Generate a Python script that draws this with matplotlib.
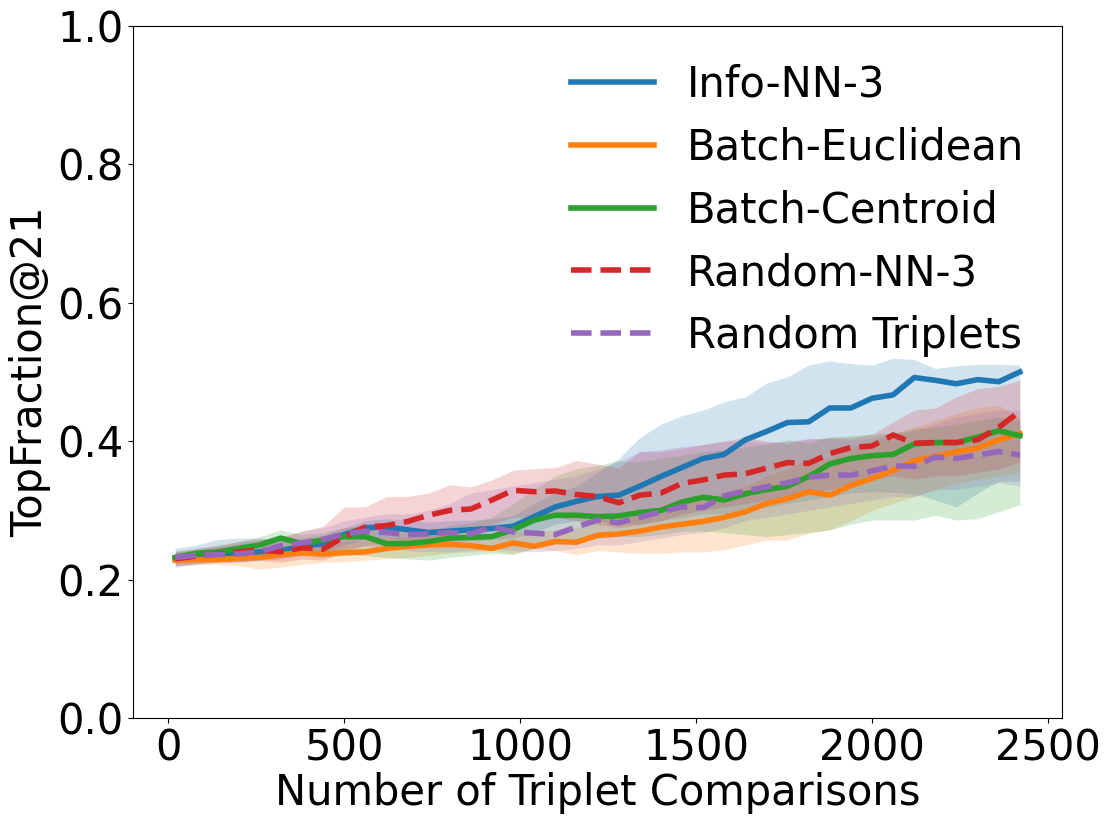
import numpy as np
import matplotlib
matplotlib.use("Agg")
import matplotlib.pyplot as plt

x = list(range(20, 2421, 60))

labels = ["Info-NN-3", "Batch-Euclidean", "Batch-Centroid", "Random-NN-3", "Random Triplets"]
colors = ["#1f77b4", "#ff7f0e", "#2ca02c", "#d62728", "#9467bd"]
styles = ["-", "-", "-", "--", "--"]

info_nn3 = [0.230, 0.233, 0.236, 0.238, 0.240, 0.242, 0.248, 0.252, 0.265, 0.275,
            0.276, 0.272, 0.268, 0.270, 0.272, 0.274, 0.277, 0.291, 0.305, 0.313,
            0.320, 0.322, 0.335, 0.349, 0.362, 0.375, 0.381, 0.402, 0.414, 0.427,
            0.428, 0.448, 0.448, 0.462, 0.467, 0.492, 0.488, 0.483, 0.489, 0.486, 0.500]
info_nn3_lo = [0.218, 0.222, 0.225, 0.225, 0.228, 0.230, 0.235, 0.240, 0.250, 0.258,
               0.260, 0.255, 0.252, 0.255, 0.256, 0.258, 0.260, 0.268, 0.280, 0.285,
               0.285, 0.280, 0.280, 0.285, 0.290, 0.295, 0.295, 0.300, 0.305, 0.310,
               0.315, 0.320, 0.325, 0.327, 0.326, 0.324, 0.315, 0.305, 0.325, 0.342, 0.342]
info_nn3_hi = [0.245, 0.250, 0.258, 0.260, 0.260, 0.258, 0.260, 0.264, 0.275, 0.285,
               0.288, 0.286, 0.283, 0.285, 0.286, 0.288, 0.292, 0.310, 0.325, 0.335,
               0.355, 0.375, 0.405, 0.425, 0.437, 0.445, 0.457, 0.464, 0.484, 0.493,
               0.510, 0.516, 0.512, 0.510, 0.520, 0.518, 0.505, 0.509, 0.511, 0.511, 0.510]

batch_euc = [0.228, 0.229, 0.229, 0.231, 0.232, 0.236, 0.239, 0.237, 0.239, 0.240,
             0.245, 0.248, 0.250, 0.251, 0.249, 0.245, 0.253, 0.248, 0.255, 0.254,
             0.264, 0.266, 0.270, 0.276, 0.280, 0.284, 0.290, 0.298, 0.310, 0.317,
             0.327, 0.322, 0.336, 0.346, 0.358, 0.372, 0.378, 0.385, 0.390, 0.402, 0.411]
batch_euc_lo = [0.220, 0.222, 0.222, 0.220, 0.215, 0.218, 0.222, 0.225, 0.226, 0.228,
                0.230, 0.232, 0.235, 0.238, 0.240, 0.242, 0.238, 0.245, 0.242, 0.236,
                0.242, 0.240, 0.238, 0.238, 0.240, 0.240, 0.243, 0.250, 0.257, 0.257,
                0.267, 0.272, 0.285, 0.300, 0.310, 0.320, 0.330, 0.340, 0.345, 0.350, 0.355]
batch_euc_hi = [0.238, 0.240, 0.240, 0.242, 0.245, 0.248, 0.252, 0.252, 0.255, 0.256,
                0.260, 0.262, 0.265, 0.268, 0.268, 0.265, 0.270, 0.268, 0.272, 0.275,
                0.285, 0.290, 0.295, 0.305, 0.310, 0.315, 0.325, 0.335, 0.350, 0.360,
                0.375, 0.375, 0.390, 0.400, 0.410, 0.420, 0.430, 0.440, 0.448, 0.452, 0.435]

batch_cen = [0.232, 0.238, 0.240, 0.245, 0.250, 0.260, 0.252, 0.257, 0.262, 0.262,
             0.252, 0.252, 0.255, 0.260, 0.261, 0.262, 0.272, 0.286, 0.293, 0.293,
             0.291, 0.292, 0.297, 0.300, 0.312, 0.319, 0.315, 0.324, 0.330, 0.335,
             0.349, 0.367, 0.375, 0.379, 0.381, 0.396, 0.398, 0.398, 0.406, 0.415, 0.408]
batch_cen_lo = [0.225, 0.228, 0.230, 0.232, 0.235, 0.240, 0.235, 0.232, 0.235, 0.235,
                0.232, 0.230, 0.228, 0.232, 0.235, 0.238, 0.236, 0.245, 0.252, 0.255,
                0.260, 0.262, 0.262, 0.265, 0.270, 0.270, 0.268, 0.265, 0.262, 0.265,
                0.268, 0.272, 0.280, 0.286, 0.286, 0.286, 0.293, 0.286, 0.288, 0.298, 0.308]
batch_cen_hi = [0.242, 0.245, 0.248, 0.255, 0.262, 0.272, 0.265, 0.268, 0.275, 0.278,
                0.270, 0.268, 0.270, 0.278, 0.282, 0.290, 0.310, 0.330, 0.350, 0.360,
                0.365, 0.372, 0.370, 0.375, 0.380, 0.385, 0.388, 0.392, 0.395, 0.402,
                0.398, 0.406, 0.408, 0.410, 0.412, 0.418, 0.420, 0.425, 0.430, 0.435, 0.430]

random_nn3 = [0.230, 0.234, 0.237, 0.240, 0.243, 0.240, 0.246, 0.244, 0.262, 0.276,
              0.278, 0.284, 0.293, 0.300, 0.302, 0.315, 0.329, 0.327, 0.328, 0.323,
              0.320, 0.311, 0.322, 0.325, 0.339, 0.344, 0.351, 0.353, 0.361, 0.369,
              0.368, 0.382, 0.391, 0.393, 0.409, 0.397, 0.398, 0.398, 0.402, 0.420, 0.443]
random_nn3_lo = [0.220, 0.223, 0.225, 0.226, 0.228, 0.225, 0.230, 0.228, 0.240, 0.250,
                 0.250, 0.255, 0.260, 0.265, 0.270, 0.280, 0.290, 0.290, 0.290, 0.285,
                 0.280, 0.275, 0.280, 0.285, 0.295, 0.300, 0.305, 0.310, 0.315, 0.320,
                 0.325, 0.330, 0.340, 0.345, 0.350, 0.345, 0.350, 0.350, 0.355, 0.360, 0.370]
random_nn3_hi = [0.240, 0.245, 0.250, 0.255, 0.258, 0.260, 0.270, 0.277, 0.305, 0.305,
                 0.320, 0.320, 0.325, 0.337, 0.334, 0.344, 0.358, 0.360, 0.362, 0.372,
                 0.367, 0.361, 0.385, 0.385, 0.390, 0.395, 0.400, 0.406, 0.400, 0.397,
                 0.403, 0.405, 0.405, 0.410, 0.428, 0.445, 0.448, 0.464, 0.476, 0.479, 0.488]

random_trip = [0.232, 0.235, 0.236, 0.237, 0.240, 0.249, 0.253, 0.258, 0.266, 0.270,
               0.268, 0.265, 0.266, 0.268, 0.266, 0.276, 0.269, 0.267, 0.265, 0.276,
               0.286, 0.282, 0.290, 0.298, 0.305, 0.304, 0.321, 0.328, 0.334, 0.340,
               0.348, 0.351, 0.351, 0.357, 0.364, 0.364, 0.377, 0.375, 0.380, 0.385, 0.380]
random_trip_lo = [0.222, 0.225, 0.226, 0.226, 0.228, 0.232, 0.235, 0.240, 0.245, 0.248,
                  0.245, 0.242, 0.240, 0.240, 0.242, 0.245, 0.242, 0.240, 0.242, 0.245,
                  0.250, 0.250, 0.255, 0.260, 0.265, 0.268, 0.275, 0.285, 0.290, 0.295,
                  0.300, 0.305, 0.310, 0.315, 0.320, 0.320, 0.330, 0.330, 0.335, 0.340, 0.335]
random_trip_hi = [0.240, 0.243, 0.248, 0.252, 0.258, 0.262, 0.270, 0.275, 0.285, 0.290,
                  0.295, 0.295, 0.300, 0.310, 0.325, 0.330, 0.335, 0.340, 0.345, 0.350,
                  0.360, 0.370, 0.385, 0.388, 0.392, 0.395, 0.400, 0.400, 0.398, 0.400,
                  0.404, 0.404, 0.402, 0.404, 0.410, 0.415, 0.425, 0.435, 0.440, 0.445, 0.445]

means = [info_nn3, batch_euc, batch_cen, random_nn3, random_trip]
lows = [info_nn3_lo, batch_euc_lo, batch_cen_lo, random_nn3_lo, random_trip_lo]
highs = [info_nn3_hi, batch_euc_hi, batch_cen_hi, random_nn3_hi, random_trip_hi]

fig = plt.figure(figsize=(11.1, 8.23), dpi=100)
ax = fig.add_axes([0.1198, 0.1276, 0.8370, 0.8408])

for m, lo, hi, c, ls, lab in zip(means, lows, highs, colors, styles, labels):
    ax.plot(x, m, color=c, linestyle=ls, linewidth=4, label=lab)
    ax.fill_between(x, lo, hi, color=c, alpha=0.2, linewidth=0)

ax.set_ylim(0, 1.0)
ax.set_xticks([0, 500, 1000, 1500, 2000, 2500])
ax.set_yticks([0.0, 0.2, 0.4, 0.6, 0.8, 1.0])
ax.tick_params(labelsize=30)
ax.set_xlabel("Number of Triplet Comparisons", fontsize=30, labelpad=2)
ax.set_ylabel("TopFraction@21", fontsize=30, labelpad=4)
ax.legend(loc="upper right", fontsize=30, frameon=False)

fig.savefig("out.png", dpi=100)
